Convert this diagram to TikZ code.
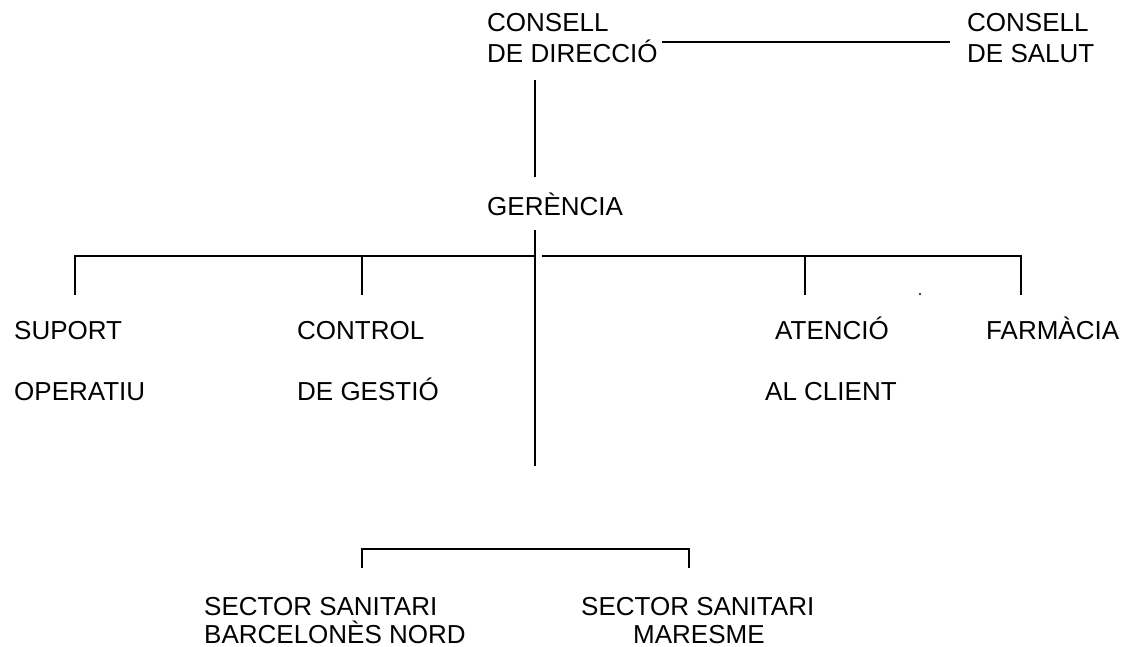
\documentclass[tikz,border=0pt]{standalone}
\usepackage{fontspec}
\setmainfont{Liberation Sans}
\begin{document}
\begin{tikzpicture}[x=1pt,y=-1pt,
  lbl/.style={anchor=base west, inner sep=0pt, font=\fontsize{26}{31}\selectfont},
  conn/.style={line width=1.8pt}]
\useasboundingbox (0,0) rectangle (1127,647);
% texts
\node[lbl] (dirA) at (487,31.7) {CONSELL};
\node[lbl] (dirB) at (487,62.7) {DE DIRECCIÓ};
\node[lbl] (salA) at (967,31.7) {CONSELL};
\node[lbl] (salB) at (967,63) {DE SALUT};
\node[lbl] (ger) at (487,216) {GERÈNCIA};
\node[lbl] (supA) at (14,339) {SUPORT};
\node[lbl] (supB) at (14,400) {OPERATIU};
\node[lbl] (conA) at (297,339) {CONTROL};
\node[lbl] (conB) at (297,400) {DE GESTIÓ};
\node[lbl] (ateA) at (775,339) {ATENCIÓ};
\node[lbl] (ateB) at (765,400) {AL CLIENT};
\node[lbl] (far) at (986,339) {FARMÀCIA};
\node[lbl] (bnA) at (204,615) {SECTOR SANITARI};
\node[lbl] (bnB) at (204,643) {BARCELONÈS NORD};
\node[lbl] (maA) at (581,615) {SECTOR SANITARI};
\node[lbl] (maB) at (633,643) {MARESME};
\node[circle, fill, inner sep=0pt, minimum size=2.4pt] (dot) at (920,294) {};
% connector end points
\coordinate (dirR) at (662,42);
\coordinate (salL) at (950,42);
\coordinate (dirD) at (535,80);
\coordinate (gerU) at (535,177);
\coordinate (gerD) at (535,230);
\coordinate (gerE) at (535,466);
\coordinate (hL) at (75,256);
\coordinate (hM) at (535,256);
\coordinate (hM2) at (542,256);
\coordinate (hR) at (1021,256);
\coordinate (supT) at (75,295);
\coordinate (conJ) at (362,256);
\coordinate (conT) at (362,295);
\coordinate (ateJ) at (805,256);
\coordinate (ateT) at (805,295);
\coordinate (farT) at (1021,295);
\coordinate (bnT) at (362,568);
\coordinate (bnC) at (362,549);
\coordinate (maC) at (689,549);
\coordinate (maT) at (689,568);
% connectors
\draw[conn] (dirR) -- (salL);
\draw[conn] (dirD) -- (gerU);
\draw[conn] (gerD) -- (gerE);
\draw[conn] (supT) -- (hL) -- (hM);
\draw[conn] (conJ) -- (conT);
\draw[conn] (hM2) -- (hR) -- (farT);
\draw[conn] (ateJ) -- (ateT);
\draw[conn] (bnT) -- (bnC) -- (maC) -- (maT);
\end{tikzpicture}
\end{document}
